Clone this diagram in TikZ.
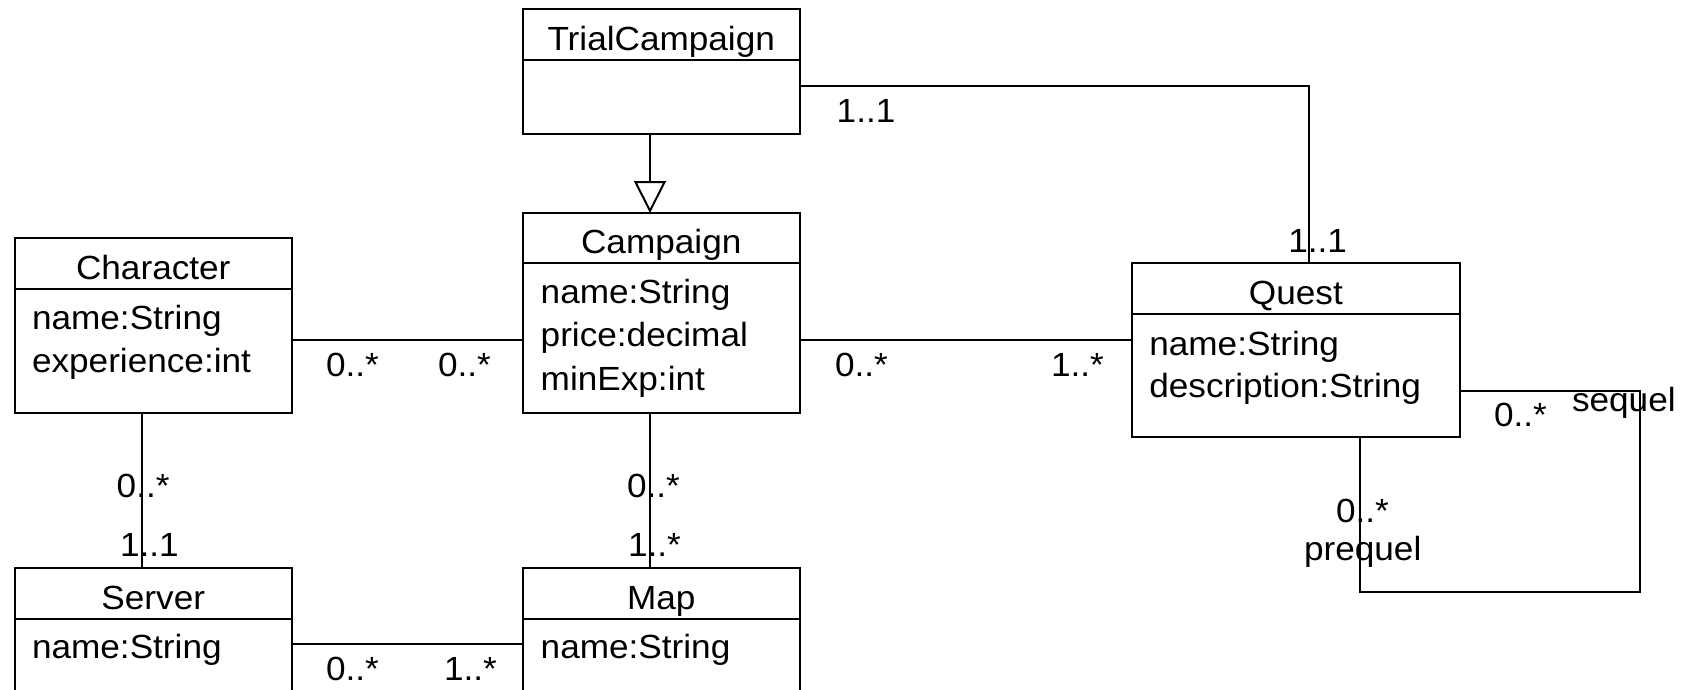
\documentclass[tikz,border=0pt]{standalone}
\usepackage{fontspec}
\setmainfont[FakeStretch=1.05]{Liberation Sans}
\usetikzlibrary{arrows.meta}
\begin{document}
\begin{tikzpicture}[x=1pt,y=-1pt,
  every node/.style={font=\fontsize{33.5}{40}\selectfont, inner sep=0pt, outer sep=0pt},
  clsbox/.style={draw, line width=2pt, anchor=north west, fill=white},
  rule/.style={line width=2pt},
  conn/.style={line width=2pt},
  gen/.style={line width=2pt, -{Triangle[open, length=32pt, width=32pt]}},
  ttl/.style={anchor=base},
  attr/.style={anchor=base west},
  mult/.style={anchor=base west}]
\clip (0,0) rectangle (1683,690);
\fill[white] (0,0) rectangle (1683,690);

% TrialCampaign
\node[clsbox, minimum width=277.5pt, minimum height=125pt] (tc) at (522.5,9.5) {};
\draw[rule] ([yshift=-51pt]tc.north west) -- ([yshift=-51pt]tc.north east);
\node[ttl] (tct) at (661.25,51) {TrialCampaign};

% Campaign
\node[clsbox, minimum width=277.5pt, minimum height=199.7pt] (camp) at (522.5,213) {};
\draw[rule] ([yshift=-50pt]camp.north west) -- ([yshift=-50pt]camp.north east);
\node[ttl] (campt) at (661.25,253.5) {Campaign};
\node[attr] (campa1) at (540.7,303) {name:String};
\node[attr] (campa2) at (540.7,346.5) {price:decimal};
\node[attr] (campa3) at (540.7,390) {minExp:int};

% Character
\node[clsbox, minimum width=277.5pt, minimum height=175pt] (char) at (14.5,237.7) {};
\draw[rule] ([yshift=-51pt]char.north west) -- ([yshift=-51pt]char.north east);
\node[ttl] (chart) at (153.25,279) {Character};
\node[attr] (chara1) at (32,329) {name:String};
\node[attr] (chara2) at (32,372) {experience:int};

% Server
\node[clsbox, minimum width=277.5pt, minimum height=172pt] (serv) at (14.5,568) {};
\draw[rule] ([yshift=-51pt]serv.north west) -- ([yshift=-51pt]serv.north east);
\node[ttl] (servt) at (153.25,609.5) {Server};
\node[attr] (serva1) at (32,658.5) {name:String};

% Map
\node[clsbox, minimum width=277.5pt, minimum height=172pt] (map) at (522.5,568) {};
\draw[rule] ([yshift=-51pt]map.north west) -- ([yshift=-51pt]map.north east);
\node[ttl] (mapt) at (661.25,609.5) {Map};
\node[attr] (mapa1) at (540.7,658.5) {name:String};

% Quest
\node[clsbox, minimum width=328.3pt, minimum height=174pt] (quest) at (1131.7,263.3) {};
\draw[rule] ([yshift=-50.7pt]quest.north west) -- ([yshift=-50.7pt]quest.north east);
\node[ttl] (questt) at (1295.85,304.5) {Quest};
\node[attr] (questa1) at (1149.3,355) {name:String};
\node[attr] (questa2) at (1149.3,397.3) {description:String};

% Generalization
\draw[gen] ([xshift=-11.25pt]tc.south) -- ([xshift=-11.25pt]camp.north);

% TrialCampaign -- Quest
\draw[conn] ([yshift=-14pt]tc.east) -| ([xshift=13.6pt]quest.north);
\node[mult] (m1) at (836.7,122.3) {1..1};
\node[mult] (m2) at (1288.3,252.3) {1..1};

% Character -- Campaign
\draw[conn] ([yshift=-14.8pt]char.east) -- ([yshift=-14.8pt]char.east -| camp.west);
\node[mult] (m3) at (326,376.7) {0..*};
\node[mult] (m4) at (438,376.7) {0..*};

% Campaign -- Quest
\draw[conn] ([yshift=-27.15pt]camp.east) -- ([yshift=-27.15pt]camp.east -| quest.west);
\node[mult] (m5) at (835,376.7) {0..*};
\node[mult] (m6) at (1051,376.7) {1..*};

% Character -- Server
\draw[conn] ([xshift=-11.25pt]char.south) -- ([xshift=-11.25pt]serv.north);
\node[mult] (m7) at (116.7,497.3) {0..*};
\node[mult] (m8) at (120,556.7) {1..1};

% Campaign -- Map
\draw[conn] ([xshift=-11.25pt]camp.south) -- ([xshift=-11.25pt]map.north);
\node[mult] (m9) at (627,497.3) {0..*};
\node[mult] (m10) at (628,556.7) {1..*};

% Server -- Map
\draw[conn] ([yshift=9.7pt]serv.east) -- ([yshift=9.7pt]serv.east -| map.west);
\node[mult] (m11) at (326,680) {0..*};
\node[mult] (m12) at (444,680) {1..*};

% Quest self association
\draw[conn] ([yshift=-40.4pt]quest.east) -- ++(180,0) |- ([xshift=64.15pt,yshift=-154.4pt]quest.south) -- ([xshift=64.15pt]quest.south);
\node[mult] (m13) at (1494,426) {0..*};
\node[mult] (r1) at (1572,411.5) {sequel};
\node[mult] (m14) at (1336,522.5) {0..*};
\node[mult] (r2) at (1304,560) {prequel};
\end{tikzpicture}
\end{document}
